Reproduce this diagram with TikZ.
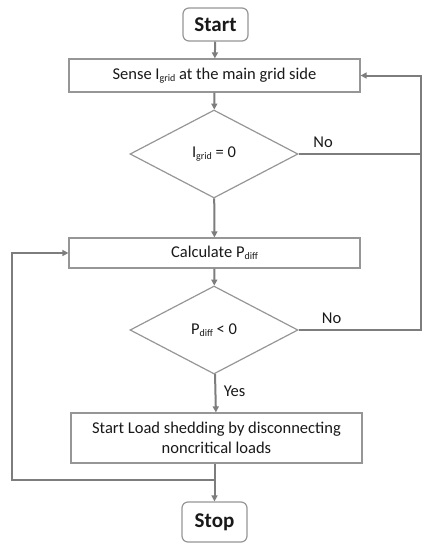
\documentclass[tikz,border=0pt]{standalone}
\usepackage{fontspec}
\setmainfont{Carlito}
\usetikzlibrary{shapes.geometric,arrows.meta}
\newcommand{\lowtxt}[1]{\raisebox{-0.3ex}{\fontsize{10}{10}\selectfont #1}}
\definecolor{linegray}{RGB}{125,125,125}
\definecolor{boxgray}{RGB}{150,150,150}
\begin{document}
\begin{tikzpicture}[x=1pt,y=-1pt,
  every node/.style={font=\fontsize{16.5}{20}\selectfont, text=black!90},
  procbox/.style={draw=boxgray, line width=1.2pt, fill=white, inner sep=0pt, align=center},
  termbox/.style={procbox, rounded corners=6pt, font=\fontsize{21}{24}\selectfont\bfseries},
  decbox/.style={draw=boxgray, line width=1.2pt, diamond, aspect=1.9, inner sep=0pt, minimum width=168pt, minimum height=88pt},
  conn/.style={draw=linegray, line width=2pt},
  arr/.style={conn, -{Triangle[length=6pt,width=6pt]}},
  lbl/.style={font=\fontsize{16.5}{20}\selectfont}
]
\useasboundingbox (0,0) rectangle (432,550);
\node[termbox, minimum width=65pt, minimum height=33pt] (start) at (215.5,24.5) {Start};
\node[procbox, minimum width=291pt, minimum height=33pt] (sense) at (214.5,75.5) {Sense I\lowtxt{grid} at the main grid side};
\node[decbox] (d1) at (214,154) {I\lowtxt{grid} = 0};
\node[procbox, minimum width=291pt, minimum height=30pt] (calc) at (214.5,253) {Calculate P\lowtxt{diff}};
\node[decbox] (d2) at (214,330) {P\lowtxt{diff} < 0};
\node[procbox, minimum width=291pt, minimum height=50pt] (load) at (216.5,438) {Start Load shedding by disconnecting\\noncritical loads};
\node[termbox, minimum width=65pt, minimum height=40pt] (stop) at (214.5,522) {Stop};

\coordinate (r1) at (421,154);
\coordinate (r2) at (421,330);
\coordinate (rtop) at (421,75.5);
\coordinate (j) at (214.5,480);
\coordinate (l1) at (12,480);
\coordinate (l2) at (12,253);

\draw[arr] (start) -- (sense);
\draw[arr] (sense) -- (d1);
\draw[arr] (d1) -- (calc);
\draw[arr] (calc) -- (d2);
\draw[arr] (d2) -- node[lbl, right=4pt, pos=0.45] {Yes} (load);
\draw[arr] (load.south -| stop) -- (stop);
\draw[conn] (d1.east) -- node[lbl, pos=0.2, above=2pt] {No} (r1);
\draw[arr] (d2.east) -- node[lbl, pos=0.27, above=2pt] {No} (r2) -- (rtop) -- (sense.east);
\draw[arr] (j) -- (l1) -- (l2) -- (calc.west);
\end{tikzpicture}
\end{document}
